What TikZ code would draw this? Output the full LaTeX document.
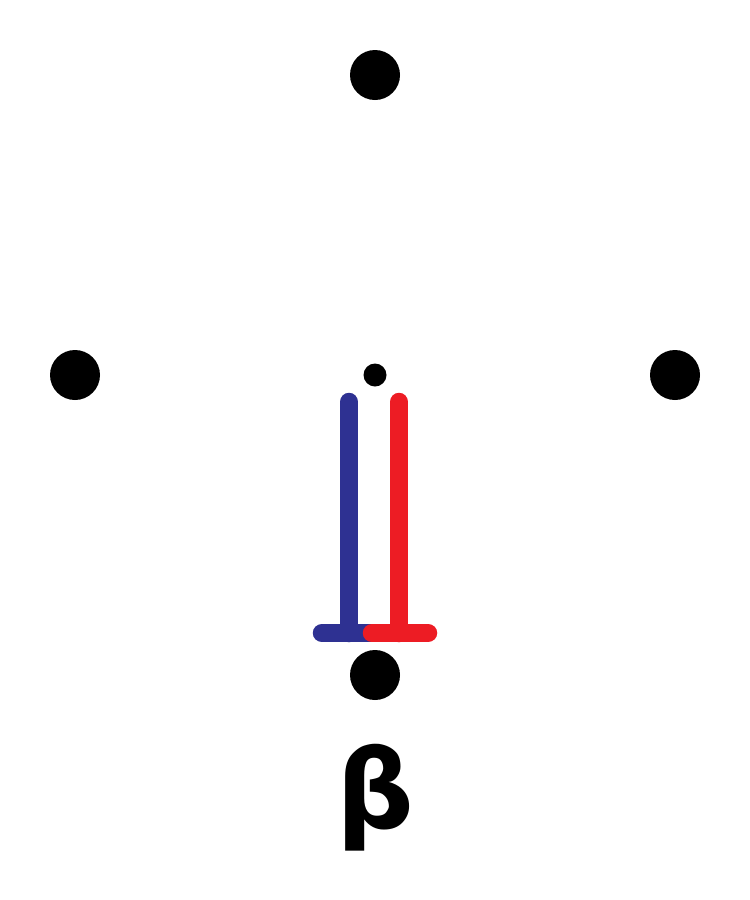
\documentclass[tikz,border=0pt]{standalone}
\usepackage{fontspec}
\newfontfamily\betafont{DejaVu Sans}
\definecolor{BarBlue}{RGB}{46,49,146}
\definecolor{BarRed}{RGB}{237,28,36}
\usetikzlibrary{positioning}
\tikzset{
  bigdot/.style={circle,fill=black,minimum size=10mm,inner sep=0pt},
  smalldot/.style={circle,fill=black,minimum size=4.6mm,inner sep=0pt},
  bar/.style={line width=3.7mm,line cap=round}
}
\begin{document}
\begin{tikzpicture}[x=0.2mm,y=-0.2mm]
\useasboundingbox (0,0) rectangle (750,900);
% outer dots
\node[bigdot] (top) at (375,75) {};
\node[bigdot] (left) at (75,375) {};
\node[bigdot] (right) at (675,375) {};
\node[bigdot] (bottom) at (375,675) {};
\node[smalldot] (centre) at (375,375) {};
% blue bar
\coordinate (btop) at (349,402);
\coordinate (bfoot) at (349,633);
\draw[BarBlue,bar] (btop) -- (bfoot);
\draw[BarBlue,bar] (322,633) -- (372,633);
% red bar
\coordinate (rtop) at (399,402);
\coordinate (rfoot) at (399,633);
\draw[BarRed,bar] (rtop) -- (rfoot);
\draw[BarRed,bar] (372,633) -- (428,633);
% label
\node[inner sep=0pt] (beta) at (375,798) {\betafont\fontsize{62}{62}\selectfont\bfseries β};
\end{tikzpicture}
\end{document}
